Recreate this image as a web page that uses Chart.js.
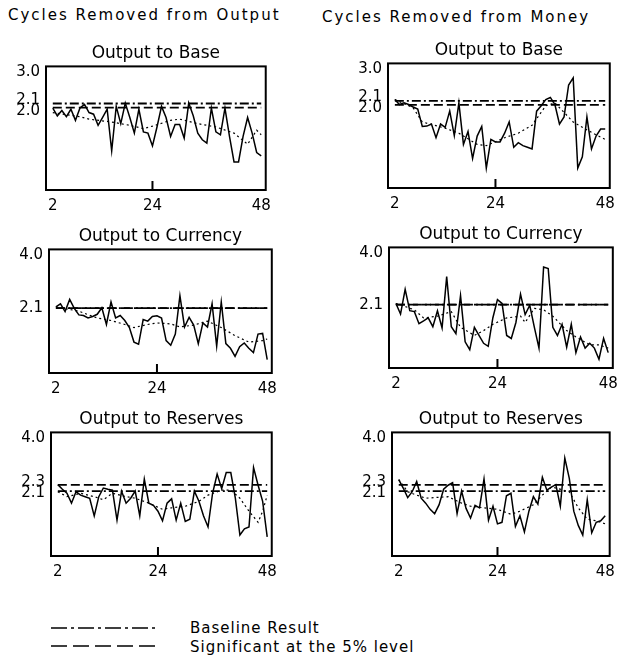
<!DOCTYPE html>
<html>
<head>
<meta charset="utf-8">
<script src="https://cdn.jsdelivr.net/npm/chart.js@4/dist/chart.umd.min.js"></script>
<style>
body { margin: 0; width: 622px; height: 662px; background: #fff; position: relative; overflow: hidden; font-family: "DejaVu Sans", sans-serif; color: #000; }
canvas { position: absolute; }
.head { position: absolute; font-size: 15px; letter-spacing: 2px; white-space: nowrap; }
.leg { position: absolute; font-size: 15px; letter-spacing: 1px; white-space: nowrap; }
svg { position: absolute; }
</style>
</head>
<body>
<div class="head" style="left:8px;top:6px">Cycles Removed from Output</div>
<div class="head" style="left:322px;top:8px">Cycles Removed from Money</div>

<canvas id="c1"></canvas>
<canvas id="c2"></canvas>
<canvas id="c3"></canvas>
<canvas id="c4"></canvas>
<canvas id="c5"></canvas>
<canvas id="c6"></canvas>

<svg style="left:48px;top:618px" width="112" height="40">
  <line x1="3" y1="10" x2="108" y2="10" stroke="#000" stroke-width="1.5" stroke-dasharray="16,4,3,4"/>
  <line x1="3" y1="28" x2="108" y2="28" stroke="#000" stroke-width="1.5" stroke-dasharray="16,6"/>
</svg>
<div class="leg" style="left:190px;top:619px">Baseline Result</div>
<div class="leg" style="left:190px;top:638px">Significant at the 5% level</div>

<script>
// lag lengths on the horizontal axis
var lags = [2,3,4,5,6,7,8,9,10,11,12,13,14,15,16,17,18,19,20,21,22,23,24,25,
            26,27,28,29,30,31,32,33,34,35,36,37,38,39,40,41,42,43,44,45,46,47,48];
var xTickVals = [2, 24, 48];

var baseTicks = [3.0, 2.1, 2.0];
var currTicks = [4.0, 2.1];
var resTicks = [4.0, 2.3, 2.1];

// reference levels: base, currency, reserves
var baselineLevel = [2.1, 2.1, 2.1];
var signifLevel = [2.0, 2.1, 2.3];

// cycles removed from output
var outBase = [1.99,1.80,1.93,1.78,1.96,1.69,1.99,2.08,1.88,1.84,1.57,1.76,1.96,0.95,2.03,1.61,2.11,1.76,1.38,1.96,1.41,1.38,1.07,1.53,
               2.03,1.76,1.30,1.59,1.59,1.26,2.11,1.80,1.38,1.22,1.14,1.99,1.41,1.34,1.99,1.30,0.68,0.68,1.30,1.76,1.38,0.91,0.83];
var outBaseTrendX = [2,8,10,15,19,22,24,28,30,34,38,42,45,47,48];
var outBaseTrend = [1.88,1.78,1.72,1.65,1.57,1.49,1.55,1.69,1.72,1.61,1.53,1.38,1.11,1.45,1.34];

var outCurr = [2.14,2.24,1.99,2.38,2.09,1.88,1.86,1.78,1.83,1.90,2.11,1.57,2.30,1.78,1.86,1.70,1.47,1.00,0.93,1.73,1.68,1.83,1.85,1.78,
               1.05,0.90,1.26,2.50,1.49,1.80,1.55,0.95,1.62,1.49,2.24,0.87,2.30,0.95,0.80,0.54,0.85,0.97,0.80,0.66,1.26,1.28,0.43];
var outCurrTrendX = [2,7,11,14,17,19,22,24,27,29,32,35,38,41,44,47,48];
var outCurrTrend = [2.14,2.00,1.78,1.70,1.57,1.47,1.57,1.62,1.59,1.49,1.55,1.68,1.47,1.21,1.00,1.05,1.10];

var outRes = [2.31,2.16,2.03,1.71,2.08,1.97,1.92,1.87,1.30,1.92,2.20,2.16,2.13,1.16,2.10,1.71,1.87,2.10,1.30,2.49,1.71,1.64,1.45,1.14,
              1.71,1.85,1.16,1.71,1.12,1.19,2.10,1.77,1.30,0.94,2.03,2.65,2.18,2.70,2.70,1.87,0.68,0.88,0.94,2.86,2.29,1.77,0.62];
var outResTrendX = [2,4,7,10,12,14,17,19,22,25,27,30,33,35,38,40,42,44,46,47,48];
var outResTrend = [2.08,1.92,2.03,1.92,1.82,2.03,1.92,1.87,1.71,1.51,1.56,1.61,1.77,1.97,2.13,2.13,1.87,1.45,1.09,1.45,1.97];

// cycles removed from money
var monBase = [2.13,2.01,2.05,2.01,1.95,1.90,1.48,1.49,1.54,1.21,1.54,1.46,1.85,1.26,2.05,1.05,1.36,0.71,1.25,1.48,0.48,1.17,1.11,1.11,
               1.32,1.59,0.98,1.09,1.02,0.98,0.94,1.85,1.98,2.13,2.18,2.01,1.54,1.71,2.48,2.65,0.48,0.75,1.71,0.94,1.25,1.42,1.42];
var monBaseTrendX = [2,6,8,13,16,20,22,26,29,32,35,37,39,41,44,46,48];
var monBaseTrend = [2.13,1.93,1.59,1.44,1.32,1.05,1.02,1.21,1.32,1.51,1.98,2.05,1.82,1.59,1.40,1.28,1.17];

var monCurr = [2.14,1.79,2.61,1.90,1.87,1.47,1.56,1.66,1.37,1.90,1.33,3.03,1.37,1.14,2.40,0.87,0.61,1.35,1.08,0.82,0.72,1.66,2.27,2.14,
               1.08,0.98,1.51,2.45,1.77,2.08,1.35,0.66,3.35,3.30,1.35,1.08,1.45,0.69,1.45,0.51,1.03,0.66,0.82,0.66,0.29,0.98,0.51];
var monCurrTrendX = [2,4,6,8,11,14,16,19,21,23,26,29,30,32,34,36,39,41,44,46,48];
var monCurrTrend = [2.14,2.04,1.93,1.66,1.72,1.87,1.35,1.08,1.24,1.45,1.66,1.72,1.51,1.98,1.93,1.72,1.24,1.03,0.77,0.77,0.66];

var monRes = [2.47,2.20,1.89,2.08,2.41,1.87,1.71,1.51,1.37,1.66,2.16,2.29,2.37,1.37,2.10,1.54,1.23,1.64,1.56,2.49,1.16,1.61,1.04,1.09,
              1.95,2.03,0.96,1.30,0.78,1.45,1.92,1.68,2.55,2.13,2.23,2.31,1.61,3.17,2.51,1.45,0.99,0.68,1.82,0.75,1.09,1.14,1.30];
var monResTrendX = [2,4,6,8,10,13,16,18,21,24,27,29,32,34,36,37,40,42,44,46,48];
var monResTrend = [2.47,2.08,1.97,1.87,1.89,1.92,1.71,1.61,1.56,1.51,1.35,1.45,1.66,1.97,2.23,2.20,2.08,1.56,1.19,1.14,1.04];

var FONT = 'DejaVu Sans';

// box, y labels and inner tick drawn over the plot
function framePlugin(yTicks) {
    return {
        id: 'frame',
        afterDatasetsDraw: function (chart) {
            var ctx = chart.ctx, a = chart.chartArea;
            var ys = chart.scales.y, xs = chart.scales.x;
            ctx.save();
            ctx.strokeStyle = '#000';
            ctx.lineWidth = 2;
            ctx.strokeRect(a.left, a.top, a.right - a.left, a.bottom - a.top);

            var tx = xs.getPixelForValue(xTickVals[1]);
            ctx.beginPath();
            ctx.moveTo(tx, a.bottom);
            ctx.lineTo(tx, a.bottom - 9);
            ctx.stroke();

            var pos = yTicks.map(function (v) { return { v: v, y: ys.getPixelForValue(v) }; })
                            .sort(function (p, q) { return p.y - q.y; });
            if (pos[0].y < a.top + 6) pos[0].y = a.top + 6;
            for (var i = 1; i < pos.length; i++) {
                if (pos[i].y - pos[i - 1].y < 11) {
                    var mid = (pos[i].y + pos[i - 1].y) / 2;
                    pos[i - 1].y = mid - 5.5;
                    pos[i].y = mid + 5.5;
                }
            }
            ctx.fillStyle = '#000';
            ctx.font = '15px "' + FONT + '"';
            ctx.textAlign = 'right';
            ctx.textBaseline = 'middle';
            pos.forEach(function (p) { ctx.fillText(p.v.toFixed(1), a.left - 6, p.y); });
            ctx.restore();
        }
    };
}

function makePanel(id, box, title, yTicks, yMax, vals, trendX, trendVals, baseVal, sigVal) {
    var padL = 45, padT = 32, padR = 10, padB = 28;
    var canvas = document.getElementById(id);
    canvas.width = (box[2] - box[0]) + padL + padR;
    canvas.height = (box[3] - box[1]) + padT + padB;
    canvas.style.left = (box[0] - padL) + 'px';
    canvas.style.top = (box[1] - padT) + 'px';

    var first = lags[0], last = lags[lags.length - 1];

    new Chart(canvas, {
        type: 'line',
        data: {
            datasets: [
                {
                    data: lags.map(function (x, i) { return { x: x, y: vals[i] }; }),
                    borderColor: '#000',
                    borderWidth: 1.5
                },
                {
                    data: trendX.map(function (x, i) { return { x: x, y: trendVals[i] }; }),
                    borderColor: '#000',
                    borderWidth: 1.2,
                    borderDash: [2, 3]
                },
                {
                    data: [{ x: first, y: baseVal }, { x: last, y: baseVal }],
                    borderColor: '#000',
                    borderWidth: 1.8,
                    borderDash: [9, 3, 2, 3]
                },
                {
                    data: [{ x: first, y: sigVal }, { x: last, y: sigVal }],
                    borderColor: '#000',
                    borderWidth: 1.8,
                    borderDash: [9, 4]
                }
            ]
        },
        options: {
            responsive: false,
            animation: false,
            devicePixelRatio: 1,
            elements: { point: { radius: 0 }, line: { tension: 0 } },
            layout: { padding: { left: padL, right: padR, top: 8, bottom: 2 } },
            plugins: {
                legend: { display: false },
                tooltip: { enabled: false },
                title: {
                    display: true,
                    text: title,
                    fullSize: false,
                    color: '#000',
                    font: { family: FONT, size: 17, weight: 'normal' },
                    padding: { top: 0, bottom: 3 }
                }
            },
            scales: {
                x: {
                    type: 'linear',
                    min: 0.5,
                    max: 49,
                    grid: { display: false, drawTicks: false },
                    border: { display: false },
                    afterBuildTicks: function (axis) {
                        axis.ticks = xTickVals.map(function (v) { return { value: v }; });
                    },
                    ticks: { color: '#000', font: { family: FONT, size: 15 }, padding: 7, maxRotation: 0, autoSkip: false }
                },
                y: { display: false, min: 0, max: yMax }
            }
        },
        plugins: [framePlugin(yTicks)]
    });
}

makePanel('c1', [46, 67, 268, 196], 'Output to Base', baseTicks, 3, outBase, outBaseTrendX, outBaseTrend, baselineLevel[0], signifLevel[0]);
makePanel('c2', [388, 64, 612, 194], 'Output to Base', baseTicks, 3, monBase, monBaseTrendX, monBaseTrend, baselineLevel[0], signifLevel[0]);
makePanel('c3', [49, 250, 274, 379], 'Output to Currency', currTicks, 4, outCurr, outCurrTrendX, outCurrTrend, baselineLevel[1], signifLevel[1]);
makePanel('c4', [389, 248, 615, 374], 'Output to Currency', currTicks, 4, monCurr, monCurrTrendX, monCurrTrend, baselineLevel[1], signifLevel[1]);
makePanel('c5', [51, 433, 274, 562], 'Output to Reserves', resTicks, 4, outRes, outResTrendX, outResTrend, baselineLevel[2], signifLevel[2]);
makePanel('c6', [392, 433, 612, 562], 'Output to Reserves', resTicks, 4, monRes, monResTrendX, monResTrend, baselineLevel[2], signifLevel[2]);
</script>
</body>
</html>
